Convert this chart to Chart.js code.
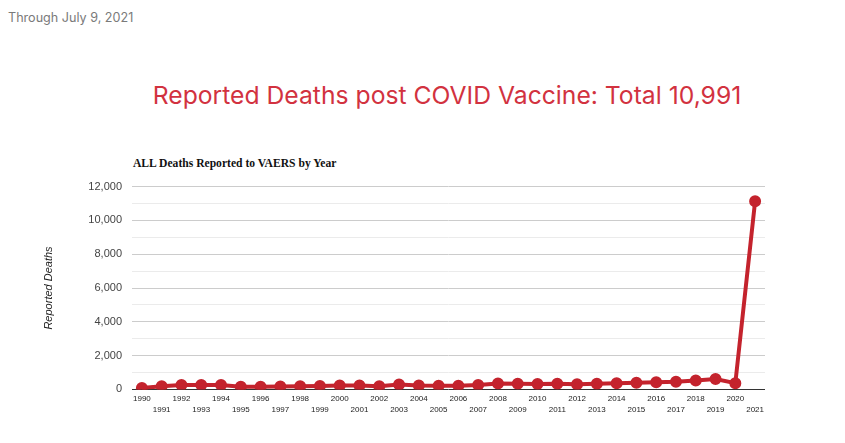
<!DOCTYPE html>
<html lang="en">
<head>
<meta charset="UTF-8">
<title>Reported Deaths post COVID Vaccine</title>
<script src="https://cdn.jsdelivr.net/npm/chart.js@4.4.0/dist/chart.umd.min.js"></script>
<style>
  body {
    margin: 0;
    padding: 0;
    width: 845px;
    height: 443px;
    background: #fff;
    overflow: hidden;
    position: relative;
  }
  #through {
    position: absolute;
    left: 8px;
    top: 10px;
    font-family: Inter, "Open Sans", sans-serif;
    font-size: 12.6px;
    color: #7a7a7a;
  }
  #headline {
    position: absolute;
    left: 0;
    width: 894px;
    top: 80px;
    text-align: center;
    font-family: Inter, "Open Sans", sans-serif;
    font-size: 24.7px;
    color: #d2323f;
  }
  #subtitle {
    position: absolute;
    left: 133px;
    top: 157px;
    font-family: "Liberation Serif", "Times New Roman", serif;
    font-weight: bold;
    font-size: 11.6px;
    color: #111;
  }
  #wrap {
    position: absolute;
    left: 0;
    top: 170px;
    width: 800px;
    height: 249px;
  }
</style>
</head>
<body>
<div id="through">Through July 9, 2021</div>
<div id="headline">Reported Deaths post COVID Vaccine: Total 10,991</div>
<div id="subtitle">ALL Deaths Reported to VAERS by Year</div>
<div id="wrap"><canvas id="chart"></canvas></div>
<script>
  var years = ['1990', '1991', '1992', '1993', '1994', '1995', '1996', '1997',
    '1998', '1999', '2000', '2001', '2002', '2003', '2004', '2005', '2006',
    '2007', '2008', '2009', '2010', '2011', '2012', '2013', '2014', '2015',
    '2016', '2017', '2018', '2019', '2020', '2021'];
  var deaths = [80, 190, 260, 265, 260, 160, 160, 170, 180, 200, 230, 230,
    180, 290, 230, 215, 220, 260, 350, 340, 320, 340, 310, 330, 360, 390,
    430, 450, 520, 620, 370, 11140];
  var yTicks = [0, 2000, 4000, 6000, 8000, 10000, 12000];

  var ctx = document.getElementById('chart').getContext('2d');
  var chart = new Chart(ctx, {
    type: 'line',
    data: {
      labels: years,
      datasets: [{
        label: 'Reported Deaths',
        data: deaths,
        borderColor: '#c4232d',
        backgroundColor: '#c4232d',
        borderWidth: 4,
        pointRadius: 4,
        pointHoverRadius: 5,
        tension: 0,
        fill: false
      }]
    },
    options: {
      responsive: true,
      maintainAspectRatio: false,
      animation: false,
      layout: {
        padding: { left: 30, right: 35, top: 10, bottom: 0 }
      },
      plugins: {
        legend: { display: false },
        tooltip: { enabled: false }
      },
      scales: {
        x: {
          offset: true,
          grid: { display: false, drawTicks: false },
          border: { display: false },
          ticks: {
            autoSkip: false,
            maxRotation: 0,
            padding: 4,
            color: '#222',
            font: { family: 'Liberation Sans, Arial', size: 8, lineHeight: 1.35 },
            callback: function (value, index) {
              var y = years[index];
              return index % 2 === 0 ? [y] : ['', y];
            }
          }
        },
        y: {
          min: 0,
          max: 12000,
          border: { display: false },
          afterFit: function (scale) { scale.width = 102; },
          grid: {
            drawTicks: false,
            color: function (c) {
              var v = c.tick.value;
              if (v === 0) return '#333';
              return yTicks.indexOf(v) >= 0 ? '#cccccc' : '#ebebeb';
            }
          },
          ticks: {
            stepSize: 1000,
            padding: 10,
            color: '#444',
            font: { family: 'Liberation Sans, Arial', size: 11 },
            callback: function (value) {
              return yTicks.indexOf(value) >= 0 ? value.toLocaleString('en-US') : '';
            }
          },
          title: {
            display: true,
            text: 'Reported Deaths',
            color: '#222',
            padding: { top: 12, bottom: 0 },
            font: { family: 'Liberation Sans, Arial', size: 11, style: 'italic' }
          }
        }
      }
    }
  });
</script>
</body>
</html>
